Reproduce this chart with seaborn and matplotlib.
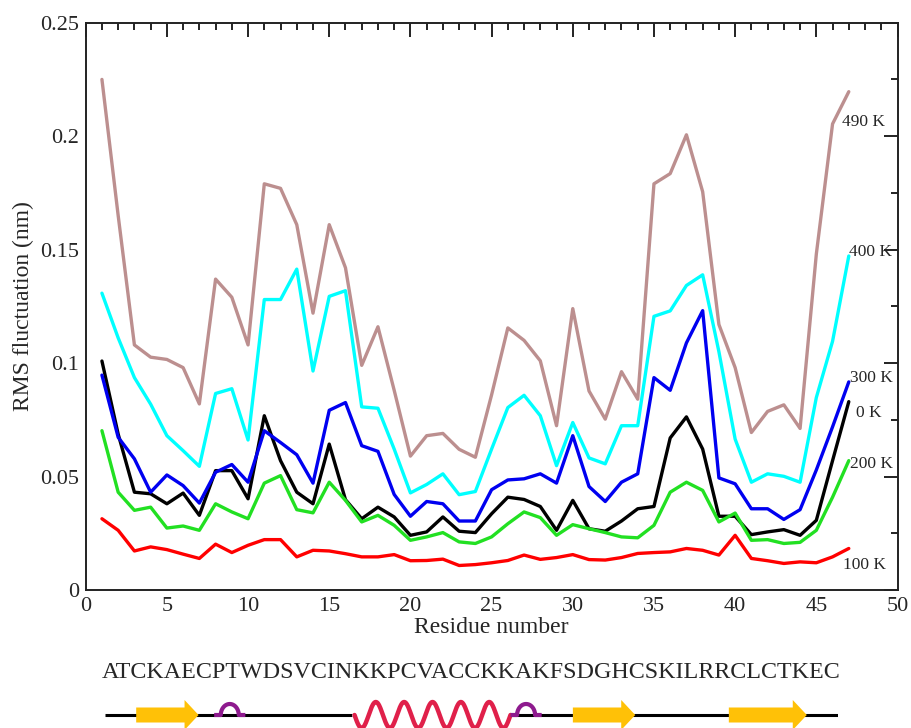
import numpy as np
import pandas as pd
import matplotlib
matplotlib.use("Agg")
import matplotlib.pyplot as plt
from matplotlib.ticker import MultipleLocator, FuncFormatter
import seaborn as sns

# ---------------- data ----------------
residues = list(range(1, 48))
temps = ["0 K", "100 K", "200 K", "300 K", "400 K", "490 K"]
colors = ["#000000", "#FF0000", "#22E022", "#0000F0", "#00FFFF", "#BC8F8F"]

rmsf_0K = [0.1009, 0.0687, 0.0431, 0.0424, 0.0380, 0.0427, 0.0329, 0.0526, 0.0526, 0.0402,
           0.0768, 0.0570, 0.0431, 0.0380, 0.0643, 0.0398, 0.0314, 0.0365, 0.0322, 0.0241,
           0.0256, 0.0322, 0.0259, 0.0253, 0.0336, 0.0409, 0.0399, 0.0368, 0.0263, 0.0395,
           0.0270, 0.0259, 0.0304, 0.0358, 0.0368, 0.0670, 0.0763, 0.0621, 0.0325, 0.0325,
           0.0244, 0.0256, 0.0266, 0.0241, 0.0307, 0.0570, 0.0830]
rmsf_100K = [0.0314, 0.0263, 0.0172, 0.0190, 0.0178, 0.0158, 0.0139, 0.0202, 0.0165, 0.0197,
             0.0222, 0.0222, 0.0146, 0.0175, 0.0172, 0.0160, 0.0146, 0.0146, 0.0156, 0.0129,
             0.0130, 0.0136, 0.0108, 0.0112, 0.0120, 0.0130, 0.0154, 0.0135, 0.0143, 0.0156,
             0.0134, 0.0132, 0.0143, 0.0161, 0.0165, 0.0168, 0.0183, 0.0175, 0.0154, 0.0241,
             0.0139, 0.0129, 0.0117, 0.0124, 0.0120, 0.0146, 0.0183]
rmsf_200K = [0.0702, 0.0431, 0.0351, 0.0365, 0.0273, 0.0282, 0.0263, 0.0380, 0.0344, 0.0314,
             0.0471, 0.0504, 0.0354, 0.0340, 0.0475, 0.0395, 0.0300, 0.0329, 0.0285, 0.0219,
             0.0234, 0.0253, 0.0212, 0.0205, 0.0234, 0.0292, 0.0344, 0.0319, 0.0241, 0.0288,
             0.0270, 0.0253, 0.0234, 0.0230, 0.0285, 0.0431, 0.0475, 0.0439, 0.0300, 0.0339,
             0.0219, 0.0222, 0.0205, 0.0210, 0.0263, 0.0409, 0.0570]
rmsf_300K = [0.0947, 0.0673, 0.0578, 0.0431, 0.0507, 0.0460, 0.0383, 0.0519, 0.0553, 0.0475,
             0.0702, 0.0650, 0.0596, 0.0471, 0.0792, 0.0826, 0.0636, 0.0611, 0.0421, 0.0325,
             0.0390, 0.0380, 0.0304, 0.0304, 0.0442, 0.0485, 0.0490, 0.0512, 0.0471, 0.0680,
             0.0456, 0.0390, 0.0475, 0.0512, 0.0936, 0.0880, 0.1089, 0.1231, 0.0494, 0.0468,
             0.0358, 0.0358, 0.0311, 0.0354, 0.0529, 0.0719, 0.0917]
rmsf_400K = [0.1308, 0.1111, 0.0936, 0.0819, 0.0680, 0.0614, 0.0545, 0.0866, 0.0887, 0.0661,
             0.1280, 0.1280, 0.1414, 0.0965, 0.1294, 0.1319, 0.0807, 0.0801, 0.0621, 0.0428,
             0.0465, 0.0512, 0.0420, 0.0434, 0.0621, 0.0804, 0.0858, 0.0768, 0.0548, 0.0738,
             0.0582, 0.0556, 0.0724, 0.0724, 0.1206, 0.1230, 0.1342, 0.1389, 0.1050, 0.0665,
             0.0475, 0.0512, 0.0501, 0.0475, 0.0848, 0.1096, 0.1472]
rmsf_490K = [0.2250, 0.1650, 0.1080, 0.1026, 0.1016, 0.0980, 0.0820, 0.1370, 0.1290, 0.1080,
             0.1790, 0.1770, 0.1610, 0.1220, 0.1610, 0.1420, 0.0990, 0.1160, 0.0880, 0.0590,
             0.0680, 0.0690, 0.0620, 0.0585, 0.0860, 0.1155, 0.1100, 0.1010, 0.0724, 0.1240,
             0.0877, 0.0753, 0.0962, 0.0841, 0.1790, 0.1835, 0.2006, 0.1755, 0.1170, 0.0980,
             0.0694, 0.0787, 0.0816, 0.0712, 0.1480, 0.2054, 0.2196]

# end-of-line labels (text, x, y)
label_text = ["490 K", "400 K", "300 K", "0 K", "200 K", "100 K"]
label_x = [46.6, 47.0, 47.1, 47.45, 47.1, 46.65]
label_y = [0.2064, 0.1491, 0.0934, 0.0782, 0.0557, 0.0110]

x_ticks = [0, 5, 10, 15, 20, 25, 30, 35, 40, 45, 50]
y_ticks = [0, 0.05, 0.1, 0.15, 0.2, 0.25]

sequence = "ATCKAECPTWDSVCINKKPCVACCKKAKFSDGHCSKILRRCLCTKEC"
strands = [(2, 6), (30, 34), (40, 45)]
turns = [(7, 9), (26, 28)]
helices = [(16, 26)]

# ---------------- style ----------------
sns.set_style("white")
plt.rcParams["font.family"] = ["Liberation Serif", "DejaVu Serif"]

df = pd.DataFrame({
    "Residue": residues * len(temps),
    "RMSF": rmsf_0K + rmsf_100K + rmsf_200K + rmsf_300K + rmsf_400K + rmsf_490K,
    "Temp": [t for t in temps for _ in residues],
})

fig = plt.figure(figsize=(9.12, 7.28), dpi=100)
ax = fig.add_axes([85.7 / 912, 1 - 590 / 728, (897.5 - 85.7) / 912, (590 - 22.7) / 728])

sns.lineplot(data=df, x="Residue", y="RMSF", hue="Temp", hue_order=temps,
             palette=dict(zip(temps, colors)), linewidth=2.4, legend=False,
             errorbar=None, sort=False, ax=ax)

ax.set_xlim(0, 50)
ax.set_ylim(0, 0.25)
ax.set_xticks(x_ticks)
ax.set_yticks(y_ticks)
ax.xaxis.set_minor_locator(MultipleLocator(1))
ax.yaxis.set_minor_locator(MultipleLocator(0.025))
ax.yaxis.set_major_formatter(FuncFormatter(lambda v, p: f"{v:g}"))
ax.tick_params(which="both", direction="in", top=True, right=True,
               width=1.4, color="#222222", labelsize=16)
ax.tick_params(which="major", length=10)
ax.tick_params(which="minor", length=5)
ax.tick_params(axis="x", pad=5)
ax.tick_params(axis="y", pad=5)
for s in ax.spines.values():
    s.set_linewidth(1.4)
    s.set_color("#222222")

ax.set_xlabel("Residue number", fontsize=17, labelpad=1)
ax.set_ylabel("RMS fluctuation (nm)", fontsize=17, labelpad=4)

for t, x, y in zip(label_text, label_x, label_y):
    ax.text(x, y, t, fontsize=12.5, ha="left", va="center", clip_on=False)

# ---------------- sequence / secondary structure panel ----------------
bx = fig.add_axes([105 / 912, 0, 733 / 912, 78 / 728])
bx.set_xlim(0, len(sequence))
bx.set_ylim(0, 78)
bx.axis("off")

bx.text(len(sequence) / 2, 55, sequence, fontsize=17.3, ha="center", va="center")

line_y = 13
bx.plot([0, len(sequence)], [line_y, line_y], color="black", lw=2.2,
        solid_capstyle="butt", zorder=1)

# helices
for h0, h1 in helices:
    xs = np.linspace(h0, h1, 400)
    n_per = 5.5
    ys = line_y - 13 * np.sin(2 * np.pi * n_per * (xs - h0) / (h1 - h0))
    bx.plot([h0 - 0.05, h1], [line_y, line_y], color="white", lw=3.5, zorder=2)
    bx.plot(xs, ys, color="#E0204A", lw=3.2, zorder=3, solid_capstyle="round")

# turns
for t0, t1 in turns:
    c = (t0 + t1) / 2
    w = 1.15
    th = np.linspace(np.pi, 0, 60)
    ax_x = c + (w / 2) * np.cos(th)
    ax_y = line_y + 11 * np.sin(th)
    xs = np.concatenate([[t0], ax_x, [t1]])
    ys = np.concatenate([[line_y], ax_y, [line_y]])
    bx.plot(xs, ys, color="#8E1A8E", lw=3, zorder=4, solid_capstyle="butt")

# strands
for s0, s1 in strands:
    head = 0.9
    px = [s0, s1 - head, s1 - head, s1, s1 - head, s1 - head, s0]
    py = [line_y + 7.5, line_y + 7.5, line_y + 15, line_y, line_y - 15,
          line_y - 7.5, line_y - 7.5]
    bx.fill(px, py, color="#FFC107", zorder=5, lw=0)

fig.savefig("out.png", dpi=100)
